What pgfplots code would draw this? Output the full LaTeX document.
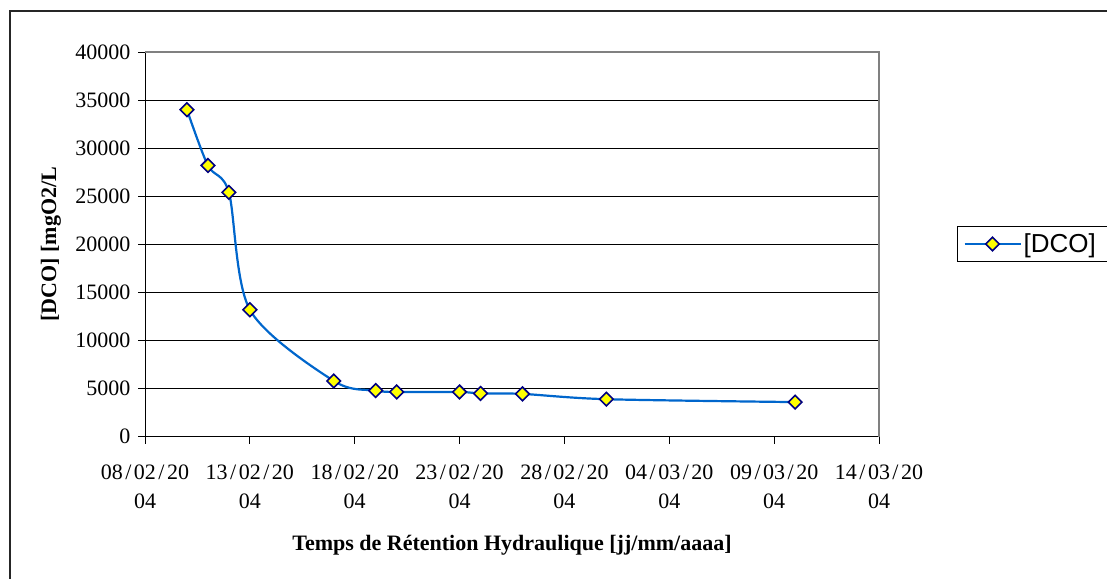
\documentclass[border=0pt]{standalone}
\usepackage{fontspec}
\setmainfont{Liberation Serif}
\newfontfamily\arialfont{Liberation Sans}
\usepackage{pgfplots}
\pgfplotsset{compat=1.18}
\definecolor{lineblue}{RGB}{0,102,204}
\definecolor{navyedge}{RGB}{0,0,128}
\definecolor{markyellow}{RGB}{255,255,0}
\newcommand{\dsl}{\kern2.5pt/\kern2.5pt}
\begin{document}
\begin{tikzpicture}[x=1pt,y=1pt]
\path[use as bounding box] (0,0) rectangle (1107,-578);
\begin{scope}
\clip (0,0) rectangle (1107,-578);
\draw[line width=1.4pt, black!85] (10,-11) rectangle (1140,-620);
\end{scope}
\begin{axis}[
  at={(145pt,-436.7pt)}, anchor=south west,
  scale only axis, width=734pt, height=384.7pt,
  xmin=0, xmax=35, ymin=0, ymax=40000,
  axis x line*=bottom, axis y line*=left,
  axis line style={black, line width=1pt, -},
  tick align=outside, major tick length=7pt,
  tick style={black, line width=0.8pt},
  xtick={0,5,...,35},
  xticklabels={08\dsl02\dsl20\\04, 13\dsl02\dsl20\\04, 18\dsl02\dsl20\\04, 23\dsl02\dsl20\\04, 28\dsl02\dsl20\\04, 04\dsl03\dsl20\\04, 09\dsl03\dsl20\\04, 14\dsl03\dsl20\\04},
  xticklabel style={align=center, font=\fontsize{22}{29}\selectfont, yshift=-18pt},
  ytick={0,5000,...,40000},
  yticklabel style={xshift=-4pt, font=\fontsize{22}{26}\selectfont, /pgf/number format/.cd, fixed, 1000 sep={}, assume math mode=true},
  scaled y ticks=false,
  ymajorgrids, major grid style={black, line width=0.8pt},
  xlabel={\textbf{Temps de Rétention Hydraulique [jj/mm/aaaa]}},
  xlabel style={at={(axis description cs:0.5,-0.2815)}, anchor=center, font=\fontsize{22}{26}\selectfont},
  ylabel={\textbf{[DCO] [mgO2/L}},
  ylabel style={at={(axis description cs:-0.128,0.5)}, anchor=center, rotate=0, font=\fontsize{22}{26}\selectfont},
  legend style={at={(axis description cs:1.1063,0.5009)}, anchor=west, draw=black, line width=0.8pt,
    font=\arialfont\fontsize{26}{30}\selectfont, inner xsep=6pt, inner ysep=5pt},
  legend image code/.code={\draw[mark repeat=2,mark phase=2,#1] plot coordinates {(0pt,0pt) (28pt,0pt) (56pt,0pt)};},
  clip=false,
]
\addplot[lineblue, line width=2.2pt, smooth, tension=0.5,
  mark=square*, mark size=4.8pt,
  mark options={rotate=45, fill=markyellow, draw=navyedge, line width=1.6pt, solid}]
  coordinates {
  (2,34000) (3,28200) (4,25400) (5,13200) (9,5800) (11,4800)
  (12,4650) (15,4650) (16,4500) (18,4450) (22,3900) (31,3600)
  };
\addlegendentry{[DCO]\hspace*{14pt}}
\draw[gray, line width=1.8pt] (rel axis cs:0,1) -- (rel axis cs:1,1) -- (rel axis cs:1,0);
\end{axis}
\end{tikzpicture}
\end{document}
